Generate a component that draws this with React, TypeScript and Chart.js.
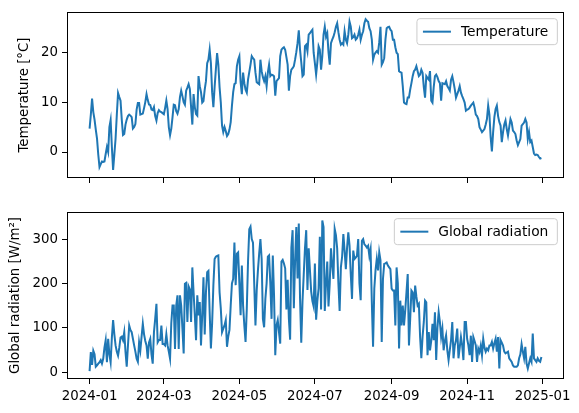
import { useEffect, useRef } from 'react';
import { Chart, registerables } from 'chart.js';

Chart.register(...registerables);

// Daily series for 2024, one value per day starting on startDate
const startDate = '2024-01-01';
const tickLabels = ['2024-01', '2024-03', '2024-05', '2024-07', '2024-09', '2024-11', '2025-01'];
const temperatureTicks = [0, 10, 20];
const radiationTicks = [0, 100, 200, 300];

const temperature = [
  4.7, 7.5, 10.7, 8.0, 6.5, 4.5, 2.7, -0.5, -3.0, -2.4,
  -1.9, -2.0, -1.9, -0.4, 1.0, 0.0, 5.0, 6.4, 1.0, -3.6,
  -0.5, 2.7, 7.5, 11.8, 11.0, 10.3, 6.5, 3.4, 3.6, 5.5,
  6.5, 7.2, 7.5, 7.3, 7.0, 4.7, 5.0, 5.6, 8.5, 9.8,
  9.8, 7.5, 7.6, 7.7, 8.8, 10.0, 11.6, 10.4, 9.5, 9.4,
  8.5, 8.4, 9.0, 7.2, 6.3, 7.8, 8.4, 8.1, 8.0, 7.8,
  7.6, 8.8, 10.3, 8.6, 5.0, 3.4, 4.7, 7.0, 9.5, 9.4,
  8.2, 7.7, 8.6, 11.0, 12.3, 11.2, 10.0, 9.5, 12.3, 12.9,
  13.6, 12.6, 9.0, 5.5, 11.6, 9.0, 7.6, 7.3, 15.2, 13.2,
  12.0, 9.9, 10.2, 12.5, 14.2, 17.8, 18.5, 20.5, 17.8, 12.0,
  9.0, 13.0, 16.5, 19.8, 17.5, 13.0, 9.9, 5.3, 4.0, 5.0,
  4.2, 3.2, 3.6, 4.5, 6.0, 9.3, 12.0, 13.6, 13.8, 17.2,
  18.5, 19.2, 14.0, 11.6, 15.9, 13.8, 12.5, 11.9, 14.5, 16.0,
  17.5, 19.2, 18.8, 18.5, 15.9, 14.0, 13.8, 13.6, 18.5, 16.2,
  15.0, 14.2, 15.2, 13.2, 15.9, 17.5, 15.2, 15.5, 15.4, 15.2,
  11.3, 14.2, 14.5, 14.8, 19.2, 20.5, 20.8, 21.0, 20.5, 19.0,
  17.5, 12.3, 15.2, 16.5, 16.8, 17.2, 18.5, 20.0, 21.8, 24.4,
  20.5, 18.0, 15.2, 15.5, 21.2, 21.5, 20.2, 23.5, 23.8, 24.2,
  24.5, 19.9, 17.8, 15.5, 18.0, 21.2, 20.5, 16.5, 19.2, 23.5,
  25.1, 23.1, 23.8, 20.0, 17.5, 21.8, 22.5, 23.1, 24.0, 25.1,
  25.8, 24.0, 22.5, 21.5, 21.8, 21.5, 24.2, 22.5, 21.8, 23.5,
  26.1, 25.1, 22.8, 23.0, 23.5, 22.5, 22.8, 23.5, 24.5, 22.5,
  23.5, 24.2, 25.8, 26.6, 26.3, 26.1, 24.8, 24.2, 22.5, 18.5,
  19.5, 19.9, 20.2, 19.9, 22.0, 25.1, 17.5, 18.0, 18.8, 22.5,
  24.8, 25.0, 25.1, 24.5, 24.2, 22.5, 22.5, 21.0, 19.9, 19.6,
  16.2, 16.0, 15.9, 13.2, 9.9, 9.7, 9.6, 10.9, 10.9, 12.5,
  13.8, 15.2, 16.2, 16.5, 17.2, 16.2, 15.2, 15.5, 16.5, 15.9,
  13.0, 10.9, 15.2, 14.8, 14.5, 16.2, 10.3, 9.9, 13.0, 15.2,
  15.5, 15.0, 14.2, 13.8, 10.3, 13.8, 13.7, 13.6, 14.2, 13.2,
  12.8, 12.3, 14.5, 15.2, 14.0, 12.6, 10.9, 11.6, 12.3, 13.2,
  11.9, 11.2, 10.6, 9.9, 8.3, 8.5, 8.6, 8.9, 9.3, 9.6,
  9.9, 8.9, 7.5, 7.2, 6.6, 5.0, 4.5, 4.0, 4.3, 4.6,
  5.5, 6.6, 9.3, 7.5, 3.0, 0.1, 4.0, 7.0, 8.6, 9.3,
  7.2, 6.0, 5.3, 2.0, 4.0, 5.5, 6.3, 4.6, 3.3, 5.0,
  6.6, 5.9, 4.3, 4.0, 3.6, 2.3, 1.4, 2.0, 2.6, 5.3,
  5.6, 5.9, 6.6, 5.9, 2.6, 4.0, 2.0, 2.3, 1.0, -0.3,
  -0.6, -0.5, -0.6, -1.0, -1.3, -1.2,
];

const radiation = [
  2, 45, 16, 48, 40, 12, 15, 19, 22, 27,
  19, 30, 55, 72, 22, 75, 40, 22, 78, 117,
  85, 60, 46, 37, 55, 78, 80, 72, 90, 46,
  12, 60, 105, 95, 90, 75, 60, 46, 30, 23,
  67, 49, 80, 109, 85, 70, 60, 30, 67, 75,
  40, 19, 90, 120, 154, 67, 72, 72, 105, 63,
  63, 60, 85, 60, 46, 30, 110, 150, 150, 52,
  150, 173, 52, 173, 150, 98, 42, 199, 201, 113,
  193, 186, 113, 236, 180, 128, 72, 173, 128, 158,
  60, 130, 214, 85, 180, 225, 228, 135, 53, 110,
  196, 255, 260, 262, 263, 180, 143, 90, 98, 105,
  117, 57, 80, 95, 150, 200, 210, 292, 196, 267,
  270, 200, 128, 240, 150, 105, 68, 143, 250, 322,
  328, 300, 292, 200, 105, 184, 230, 267, 300, 255,
  120, 101, 165, 200, 260, 263, 200, 120, 263, 173,
  38, 105, 117, 90, 64, 249, 253, 245, 234, 141,
  208, 120, 73, 280, 320, 144, 250, 327, 211, 335,
  167, 66, 159, 220, 279, 320, 185, 279, 230, 182,
  160, 148, 245, 118, 160, 189, 305, 141, 342, 327,
  138, 200, 249, 148, 200, 279, 241, 210, 323, 309,
  279, 200, 138, 236, 260, 311, 274, 232, 280, 315,
  285, 220, 165, 274, 255, 258, 262, 300, 200, 162,
  296, 300, 288, 285, 281, 285, 262, 277, 158, 57,
  188, 230, 255, 229, 270, 252, 68, 210, 244, 245,
  247, 240, 236, 232, 188, 184, 184, 105, 236, 200,
  53, 161, 105, 150, 105, 139, 180, 221, 60, 120,
  184, 180, 135, 195, 170, 150, 154, 79, 31, 80,
  113, 161, 157, 38, 90, 49, 70, 109, 72, 135,
  27, 100, 135, 113, 79, 98, 49, 70, 83, 49,
  27, 50, 72, 113, 31, 60, 72, 98, 31, 55,
  79, 60, 27, 113, 113, 75, 60, 38, 82, 23,
  79, 70, 60, 23, 53, 45, 60, 38, 75, 55,
  46, 53, 49, 60, 60, 68, 53, 65, 75, 46,
  79, 8, 72, 66, 60, 46, 42, 44, 46, 31,
  27, 23, 15, 12, 12, 12, 15, 31, 40, 63,
  46, 31, 57, 19, 8, 20, 31, 23, 87, 31,
  27, 23, 31, 25, 23, 34,
];

const FONT = 'DejaVu Sans';
const FONT_SIZE = 13.33;
const LEGEND_FONT_SIZE = 13.8;
const LINE_COLOR = '#1f77b4';

const dayMs = 86400000;
const startMs = Date.parse(startDate);
const dayOf = (label: string) => {
  const [y, m] = label.split('-').map(Number);
  return Math.round((Date.UTC(y, m - 1, 1) - startMs) / dayMs);
};
const tickDays = tickLabels.map(dayOf);
const lastDay = temperature.length - 1;
const xMargin = lastDay * 0.05;

// Axes frame on all four sides plus a boxed legend in the upper right corner
const framePlugin = {
  id: 'frameAndLegend',
  afterDatasetsDraw(chart: any) {
    const { ctx, chartArea: a } = chart;
    ctx.save();
    ctx.strokeStyle = '#000';
    ctx.lineWidth = 1;
    const l = Math.round(a.left) + 0.5;
    const t = Math.round(a.top) + 0.5;
    const r = Math.round(a.right) - 0.5;
    const b = Math.round(a.bottom) - 0.5;
    ctx.strokeRect(l, t, r - l, b - t);

    const ds = chart.data.datasets[0];
    ctx.font = `${LEGEND_FONT_SIZE}px "${FONT}"`;
    const tw = ctx.measureText(ds.label).width;
    const w = tw + 53;
    const h = 26;
    const x = a.right - 6.67 - w;
    const y = a.top + 6.67;
    const rad = 3;
    ctx.beginPath();
    ctx.moveTo(x + rad, y);
    ctx.lineTo(x + w - rad, y);
    ctx.arcTo(x + w, y, x + w, y + rad, rad);
    ctx.lineTo(x + w, y + h - rad);
    ctx.arcTo(x + w, y + h, x + w - rad, y + h, rad);
    ctx.lineTo(x + rad, y + h);
    ctx.arcTo(x, y + h, x, y + h - rad, rad);
    ctx.lineTo(x, y + rad);
    ctx.arcTo(x, y, x + rad, y, rad);
    ctx.closePath();
    ctx.fillStyle = 'rgba(255,255,255,0.8)';
    ctx.fill();
    ctx.strokeStyle = '#cccccc';
    ctx.lineWidth = 1;
    ctx.stroke();

    ctx.beginPath();
    ctx.strokeStyle = ds.borderColor;
    ctx.lineWidth = 2;
    ctx.moveTo(x + 6, y + h / 2);
    ctx.lineTo(x + 34, y + h / 2);
    ctx.stroke();

    ctx.fillStyle = '#000';
    ctx.textBaseline = 'middle';
    ctx.textAlign = 'left';
    ctx.fillText(ds.label, x + 44, y + h / 2 + 1);
    ctx.restore();
  },
};

interface PanelOpts {
  label: string;
  values: number[];
  yMin: number;
  yMax: number;
  yTicks: number[];
  yTitle: string;
  titlePad: number;
  showXLabels: boolean;
  padTop: number;
  xAxisHeight: number;
}

function makeConfig(o: PanelOpts): any {
  const font = { family: FONT, size: FONT_SIZE };
  return {
    type: 'line',
    data: {
      datasets: [
        {
          label: o.label,
          data: o.values.map((v, i) => ({ x: i, y: v })),
          borderColor: LINE_COLOR,
          backgroundColor: LINE_COLOR,
          borderWidth: 2,
          pointRadius: 0,
          tension: 0,
          fill: false,
        },
      ],
    },
    options: {
      responsive: false,
      animation: false,
      devicePixelRatio: 1,
      layout: { padding: { top: o.padTop, right: 15, left: 0, bottom: 0 } },
      plugins: { legend: { display: false }, tooltip: { enabled: false } },
      scales: {
        x: {
          type: 'linear',
          min: -xMargin,
          max: lastDay + xMargin,
          afterBuildTicks: (scale: any) => {
            scale.ticks = tickDays.map((v) => ({ value: v }));
          },
          afterFit: (scale: any) => {
            scale.height = o.xAxisHeight;
          },
          ticks: {
            display: o.showXLabels,
            autoSkip: false,
            maxRotation: 0,
            minRotation: 0,
            padding: 5,
            color: '#000',
            font,
            callback: (v: number) => {
              const idx = tickDays.indexOf(Math.round(v));
              return idx >= 0 ? tickLabels[idx] : '';
            },
          },
          grid: {
            display: true,
            drawOnChartArea: false,
            drawTicks: true,
            tickLength: 5,
            tickColor: '#000',
            tickWidth: 1,
          },
          border: { display: false },
        },
        y: {
          type: 'linear',
          min: o.yMin,
          max: o.yMax,
          afterBuildTicks: (scale: any) => {
            scale.ticks = o.yTicks.map((v) => ({ value: v }));
          },
          afterFit: (scale: any) => {
            scale.width = 67;
          },
          ticks: {
            padding: 4,
            color: '#000',
            font,
            callback: (v: number) => String(v),
          },
          grid: {
            display: true,
            drawOnChartArea: false,
            drawTicks: true,
            tickLength: 5,
            tickColor: '#000',
            tickWidth: 1,
          },
          border: { display: false },
          title: {
            display: true,
            text: o.yTitle,
            color: '#000',
            font,
            padding: { top: o.titlePad, bottom: 0 },
          },
        },
      },
    },
    plugins: [framePlugin],
  };
}

export default function App() {
  const topRef = useRef<HTMLCanvasElement>(null);
  const bottomRef = useRef<HTMLCanvasElement>(null);

  useEffect(() => {
    const top = new Chart(
      topRef.current as HTMLCanvasElement,
      makeConfig({
        label: 'Temperature',
        values: temperature,
        yMin: -5.2,
        yMax: 28.05,
        yTicks: temperatureTicks,
        yTitle: 'Temperature [°C]',
        titlePad: 17,
        showXLabels: false,
        padTop: 10,
        xAxisHeight: 22,
      })
    );
    const bottom = new Chart(
      bottomRef.current as HTMLCanvasElement,
      makeConfig({
        label: 'Global radiation',
        values: radiation,
        yMin: -15.7,
        yMax: 361,
        yTicks: radiationTicks,
        yTitle: 'Global radiation [W/m²]',
        titlePad: 8,
        showXLabels: true,
        padTop: 11,
        xAxisHeight: 34,
      })
    );
    return () => {
      top.destroy();
      bottom.destroy();
    };
  }, []);

  return (
    <div style={{ position: 'absolute', left: 0, top: 0, width: 579, height: 413, background: '#fff' }}>
      <canvas ref={topRef} width={579} height={200} style={{ position: 'absolute', left: 0, top: 0 }} />
      <canvas ref={bottomRef} width={579} height={213} style={{ position: 'absolute', left: 0, top: 200 }} />
    </div>
  );
}
